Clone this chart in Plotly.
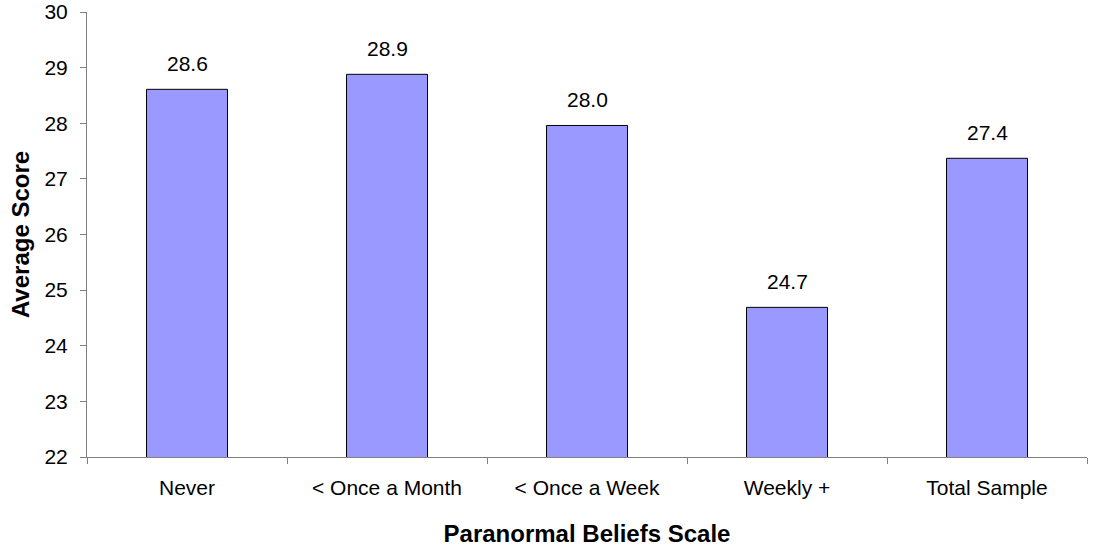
import plotly.graph_objects as go

categories = ["Never", "< Once a Month", "< Once a Week", "Weekly +", "Total Sample"]
scores = [28.61, 28.88, 27.96, 24.69, 27.37]
y_ticks = [22, 23, 24, 25, 26, 27, 28, 29, 30]

FONT = "Liberation Sans, Arial"

fig = go.Figure()
fig.add_trace(go.Bar(
    x=categories, y=scores, base=0,
    marker=dict(color="#9999FF", line=dict(color="#000000", width=1)),
    width=0.405,
))
for c, v in zip(categories, scores):
    fig.add_annotation(x=c, y=v, text=f"{v:.1f}", showarrow=False,
                       yanchor="bottom", yshift=12,
                       font=dict(family=FONT, size=21, color="#000"))

fig.update_layout(
    width=1094, height=550,
    margin=dict(l=87, r=7, t=12, b=93),
    plot_bgcolor="white", paper_bgcolor="white",
    showlegend=False,
    font=dict(family=FONT, size=21, color="#000"),
    xaxis=dict(
        automargin=False,
        showline=True, linecolor="#808080", linewidth=1,
        ticks="outside", ticklen=6, tickcolor="#808080",
        tickson="boundaries",
        ticklabelstandoff=12,
        title=dict(text="<b>Paranormal Beliefs Scale</b>", font=dict(size=24), standoff=26),
        showgrid=False,
    ),
    yaxis=dict(
        automargin=False,
        range=[22, 30], tickvals=y_ticks,
        showline=True, linecolor="#808080", linewidth=1,
        ticks="outside", ticklen=6, tickcolor="#808080",
        ticklabelstandoff=8, ticklabeloverflow="allow",
        title=dict(text="<b>Average Score</b>", font=dict(size=24), standoff=8),
        showgrid=False, zeroline=False,
    ),
)
fig.write_html("out.html",
               config={"displayModeBar": False},
               post_script="document.body.style.margin='0';document.body.style.overflow='hidden';")
